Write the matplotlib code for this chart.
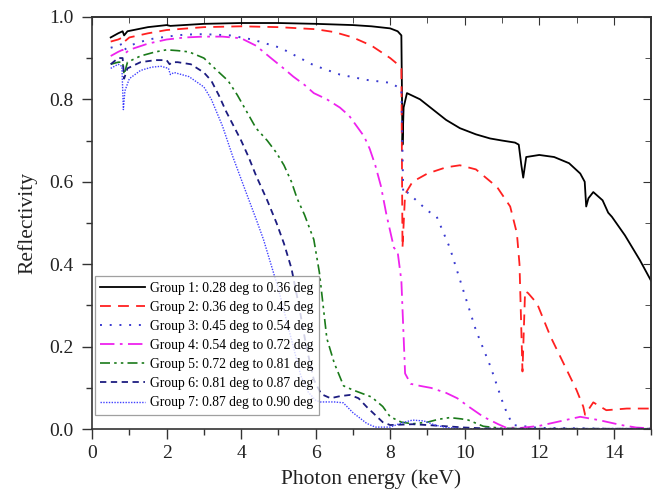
import matplotlib
matplotlib.use("Agg")
import matplotlib.pyplot as plt
from matplotlib.ticker import MultipleLocator, FormatStrFormatter

plt.rcParams['font.family'] = ['Liberation Serif', 'DejaVu Serif']

labels = [
    "Group 1: 0.28 deg to 0.36 deg",
    "Group 2: 0.36 deg to 0.45 deg",
    "Group 3: 0.45 deg to 0.54 deg",
    "Group 4: 0.54 deg to 0.72 deg",
    "Group 5: 0.72 deg to 0.81 deg",
    "Group 6: 0.81 deg to 0.87 deg",
    "Group 7: 0.87 deg to 0.90 deg",
]

g1_x = [0.5, 0.7, 0.82, 0.86, 0.95, 1.5, 2.0, 2.1, 3, 4, 5, 6, 7, 7.5, 8.0, 8.2, 8.3, 8.33, 8.36, 8.45,
        8.8, 9.15, 9.5, 9.87, 10.3, 10.68, 11.0, 11.35, 11.45, 11.52, 11.57, 11.65, 12.0, 12.4, 12.8,
        13.1, 13.22, 13.26, 13.32, 13.45, 13.7, 13.85, 13.95, 14.3, 14.7, 15.0]
g1_y = [0.95, 0.96, 0.965, 0.955, 0.965, 0.975, 0.98, 0.978, 0.983, 0.985, 0.985, 0.983, 0.98, 0.977,
        0.972, 0.965, 0.955, 0.69, 0.78, 0.815, 0.80, 0.775, 0.75, 0.73, 0.715, 0.705, 0.70, 0.695,
        0.69, 0.64, 0.61, 0.66, 0.665, 0.66, 0.645, 0.62, 0.60, 0.54, 0.56, 0.575, 0.555, 0.525, 0.515,
        0.47, 0.41, 0.36]

g2_x = [0.5, 0.7, 0.82, 0.87, 1.0, 1.5, 2, 3, 4, 5, 6, 6.5, 7, 7.5, 8.0, 8.2, 8.3, 8.33, 8.4, 8.6,
        9.0, 9.5, 9.87, 10.3, 10.87, 11.22, 11.4, 11.47, 11.55, 11.62, 11.7, 11.94, 12.3, 12.65,
        13.0, 13.18, 13.23, 13.45, 13.8, 14.35, 15]
g2_y = [0.94, 0.945, 0.95, 0.94, 0.95, 0.96, 0.968, 0.975, 0.977, 0.975, 0.97, 0.963, 0.95, 0.93,
        0.9, 0.885, 0.875, 0.44, 0.57, 0.6, 0.62, 0.635, 0.64, 0.63, 0.587, 0.54, 0.475, 0.40, 0.14,
        0.335, 0.33, 0.305, 0.225, 0.16, 0.095, 0.055, 0.035, 0.065, 0.046, 0.05, 0.05]

g3_x = [0.5, 0.7, 0.82, 0.87, 1.0, 1.5, 2, 2.5, 3, 3.7, 4.3, 5.05, 5.58, 5.94, 6.65, 7.37, 8.0, 8.3,
        8.35, 8.45, 8.7, 9.0, 9.25, 9.6, 9.95, 10.3, 10.7, 11.0, 11.15, 11.3, 12, 13, 14, 15]
g3_y = [0.925, 0.93, 0.935, 0.92, 0.93, 0.945, 0.952, 0.957, 0.958, 0.955, 0.945, 0.925, 0.90, 0.883,
        0.86, 0.847, 0.84, 0.825, 0.57, 0.575, 0.555, 0.53, 0.515, 0.44, 0.34, 0.24, 0.15, 0.07,
        0.035, 0.01, 0.003, 0.002, 0.001, 0.001]

g4_x = [0.5, 0.7, 0.82, 0.87, 1.0, 1.5, 2, 2.5, 3, 3.5, 4, 4.4, 4.8, 5.1, 5.4, 5.7, 5.95, 6.3, 6.65,
        6.9, 7.1, 7.3, 7.45, 7.6, 7.75, 7.9, 8.1, 8.2, 8.3, 8.4, 8.55, 8.8, 9.1, 9.5, 9.8, 10.1, 10.5,
        10.9, 11.1, 11.5, 12, 12.5, 13.1, 13.6, 14.2, 14.6, 15]
g4_y = [0.905, 0.915, 0.92, 0.91, 0.92, 0.935, 0.945, 0.95, 0.952, 0.952, 0.948, 0.93, 0.9, 0.878,
        0.855, 0.835, 0.815, 0.8, 0.78, 0.76, 0.735, 0.71, 0.68, 0.64, 0.59, 0.52, 0.44, 0.43, 0.36,
        0.135, 0.11, 0.105, 0.1, 0.088, 0.075, 0.055, 0.03, 0.012, 0.004, 0.003, 0.008, 0.018, 0.03,
        0.022, 0.01, 0.004, 0.002]

g5_x = [0.5, 0.7, 0.82, 0.86, 0.95, 1.3, 1.7, 2.0, 2.3, 2.6, 3.0, 3.35, 3.65, 3.9, 4.15, 4.4, 4.7,
        4.95, 5.15, 5.35, 5.5, 5.7, 5.95, 6.1, 6.3, 6.5, 6.75, 7.0, 7.5, 7.8, 8.0, 8.3, 8.6, 9.0, 9.3,
        9.6, 9.9, 10.1, 10.5, 11, 12, 15]
g5_y = [0.885, 0.89, 0.89, 0.86, 0.89, 0.905, 0.915, 0.92, 0.918, 0.915, 0.9, 0.87, 0.845, 0.81,
        0.77, 0.73, 0.70, 0.67, 0.64, 0.6, 0.56, 0.52, 0.46, 0.38, 0.22, 0.16, 0.105, 0.095, 0.078,
        0.055, 0.03, 0.017, 0.013, 0.017, 0.024, 0.028, 0.025, 0.022, 0.007, 0.002, 0.001, 0.001]

g6_x = [0.5, 0.7, 0.82, 0.86, 0.95, 1.3, 1.7, 2.0, 2.08, 2.15, 2.3, 2.65, 3.0, 3.2, 3.4, 3.6, 3.8,
        4.0, 4.2, 4.4, 4.7, 4.95, 5.15, 5.35, 5.55, 5.75, 5.95, 6.15, 6.4, 6.65, 6.92, 7.15, 7.37,
        7.8, 8.0, 8.6, 9.0, 9.5, 10, 10.5, 11, 15]
g6_y = [0.885, 0.9, 0.9, 0.85, 0.875, 0.89, 0.895, 0.895, 0.885, 0.89, 0.89, 0.885, 0.865, 0.845,
        0.81, 0.77, 0.735, 0.70, 0.66, 0.615, 0.555, 0.5, 0.45, 0.39, 0.3, 0.2, 0.12, 0.085, 0.075,
        0.08, 0.083, 0.075, 0.054, 0.017, 0.01, 0.012, 0.01, 0.007, 0.004, 0.002, 0.001, 0.001]

g7_x = [0.5, 0.7, 0.8, 0.84, 0.88, 1.0, 1.3, 1.6, 1.85, 2.05, 2.1, 2.2, 2.6, 3.0, 3.2, 3.5, 3.78,
        4.15, 4.4, 4.6, 4.8, 5.0, 5.2, 5.4, 5.6, 5.8, 6.0, 6.12, 6.5, 6.74, 7.0, 7.37, 7.6, 8.0, 8.3,
        8.6, 8.9, 9.2, 9.5, 10, 15]
g7_y = [0.875, 0.885, 0.88, 0.775, 0.82, 0.85, 0.87, 0.878, 0.88, 0.875, 0.86, 0.865, 0.855, 0.83,
        0.8, 0.735, 0.66, 0.57, 0.51, 0.46, 0.4, 0.34, 0.27, 0.2, 0.13, 0.09, 0.07, 0.066, 0.066,
        0.064, 0.04, 0.014, 0.005, 0.005, 0.015, 0.022, 0.02, 0.01, 0.004, 0.001, 0.001]

series = [(g1_x, g1_y), (g2_x, g2_y), (g3_x, g3_y), (g4_x, g4_y),
          (g5_x, g5_y), (g6_x, g6_y), (g7_x, g7_y)]
colors = ['#000000', '#ff2020', '#3a3ad0', '#ee22ee', '#1a7a1a', '#1c1c80', '#4040ff']
styles = ['-', (0, (6, 4)), (0, (1, 4)), (0, (8, 3, 1.5, 3)), (0, (6, 2.5, 1.5, 2.5, 1.5, 2.5)),
          (0, (3.5, 2.5)), (0, (1, 1))]
widths = [1.3, 1.3, 1.4, 1.3, 1.2, 1.3, 1.0]

fig = plt.figure(figsize=(6.53, 4.95), dpi=100)
ax = fig.add_axes([0.141, 0.133, 0.856, 0.833])

for (x, y), c, ls, lw, lab in zip(series, colors, styles, widths, labels):
    ax.plot(x, y, color=c, linestyle=ls, linewidth=lw, label=lab)

ax.set_xlim(0, 15)
ax.set_ylim(0, 1.0)
ax.xaxis.set_major_locator(MultipleLocator(2))
ax.xaxis.set_minor_locator(MultipleLocator(1))
ax.yaxis.set_major_locator(MultipleLocator(0.2))
ax.yaxis.set_minor_locator(MultipleLocator(0.1))
ax.yaxis.set_major_formatter(FormatStrFormatter('%.1f'))
ax.tick_params(which='major', direction='out', length=7, width=1.0, labelsize=14,
               color='#333333', labelcolor='#222222')
ax.tick_params(which='minor', direction='out', length=4.3, width=1.0, color='#333333')
ax.tick_params(axis='x', which='major', pad=4.5)
ax.tick_params(axis='y', which='major', pad=6.5)

secx = ax.secondary_xaxis('top')
secx.xaxis.set_major_locator(MultipleLocator(2))
secx.xaxis.set_minor_locator(MultipleLocator(1))
secx.tick_params(which='major', direction='in', length=6, labeltop=False, color='#333333')
secx.tick_params(which='minor', direction='in', length=4, color='#333333')
secy = ax.secondary_yaxis('right')
secy.yaxis.set_major_locator(MultipleLocator(0.2))
secy.yaxis.set_minor_locator(MultipleLocator(0.1))
secy.tick_params(which='major', direction='in', length=6, labelright=False, color='#333333')
secy.tick_params(which='minor', direction='in', length=4, color='#333333')

for sp in list(ax.spines.values()):
    sp.set_linewidth(1.2)
    sp.set_color('#333333')
for sec in (secx, secy):
    for sp in sec.spines.values():
        sp.set_linewidth(1.2)
        sp.set_color('#333333')

ax.set_xlabel("Photon energy (keV)", fontsize=15.5, labelpad=5, color='#222222')
ax.set_ylabel("Reflectivity", fontsize=15.5, labelpad=8, color='#222222')

leg = ax.legend(loc='lower left', bbox_to_anchor=(0.005, 0.035), fontsize=9.8, frameon=True,
                fancybox=False, edgecolor='#888888', handlelength=3.3, handletextpad=0.35,
                labelspacing=0.45, borderpad=0.4, borderaxespad=0.0)
leg.get_frame().set_linewidth(0.9)

fig.savefig("out.png", dpi=100)
